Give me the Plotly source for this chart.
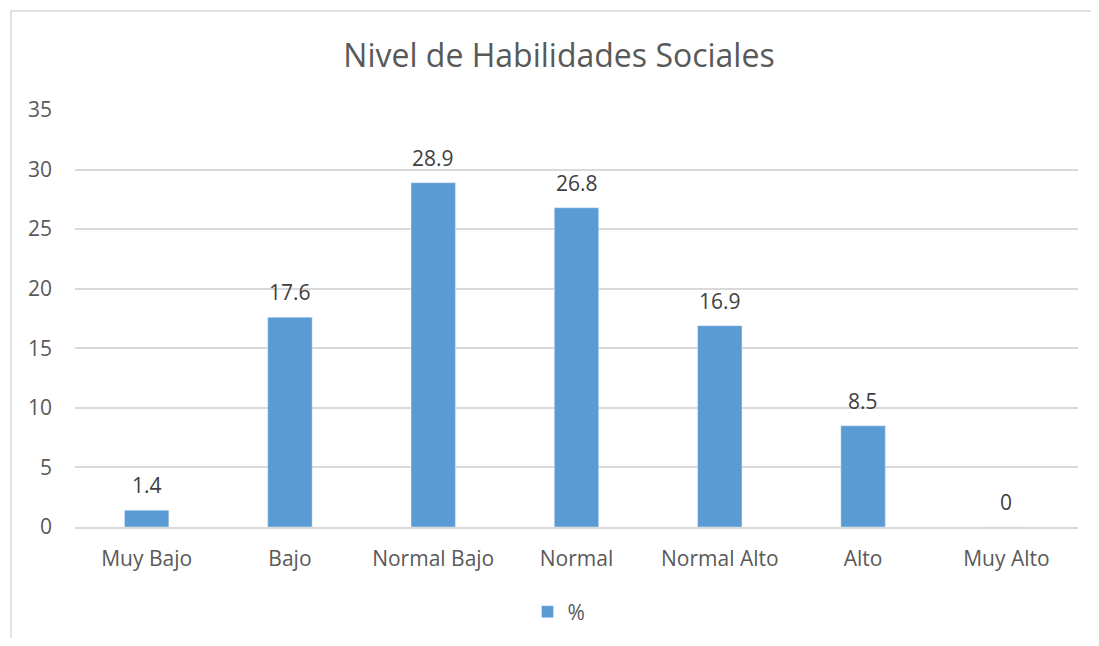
import plotly.graph_objects as go

categories = ["Muy Bajo", "Bajo", "Normal Bajo", "Normal", "Normal Alto", "Alto", "Muy Alto"]
values = [1.4, 17.6, 28.9, 26.8, 16.9, 8.5, 0]
labels = ["1.4", "17.6", "28.9", "26.8", "16.9", "8.5", "0"]
series_name = "%"
title_text = "Nivel de Habilidades Sociales"

FONT = "Open Sans"
OFF = 8  # page body margin
W, H = 1083, 630
L, R, T, B = 67, 13, 102, 111
pw, ph = W - L - R, H - T - B

fig = go.Figure()
fig.add_trace(go.Bar(
    x=categories, y=values, name=series_name,
    marker=dict(color="#5B9BD5"),
    width=0.31,
))

for c, v, t in zip(categories, values, labels):
    fig.add_annotation(x=c, y=v, text=t, showarrow=False, yanchor="bottom", yshift=9,
                       font=dict(family=FONT, size=21, color="#404040"))

fig.update_layout(
    width=W, height=H,
    margin=dict(l=L, r=R, t=T, b=B, autoexpand=False),
    paper_bgcolor="white", plot_bgcolor="white",
    title=dict(text=title_text, x=(559 - OFF) / W, xanchor="center", y=1 - (56 - OFF) / H, yanchor="middle",
               font=dict(family=FONT, size=32, color="#595959")),
    showlegend=True,
    legend=dict(orientation="h", x=(559 - OFF - L) / pw, xanchor="center", y=-(612 - 527) / ph, yanchor="middle",
                font=dict(family=FONT, size=21, color="#595959")),
    xaxis=dict(showgrid=False, showline=True, linecolor="#D9D9D9", linewidth=1.5,
               ticks="", ticklabelstandoff=12, automargin=False,
               tickfont=dict(family=FONT, size=21, color="#595959")),
    yaxis=dict(range=[0, 35], dtick=5, showgrid=True, gridcolor="#D9D9D9", gridwidth=1.5,
               zeroline=False, showline=False, ticks="", ticklabelstandoff=22, automargin=False,
               tickfont=dict(family=FONT, size=21, color="#595959")),
    bargap=0.69,
    shapes=[dict(type="rect", xref="paper", yref="paper",
                 x0=(11 - OFF - L) / pw, x1=(W + 20 - L) / pw,
                 y0=-(H + 20 - T - ph) / ph, y1=(T + ph - (11 - OFF)) / ph,
                 line=dict(color="#D9D9D9", width=1.5), fillcolor="rgba(0,0,0,0)", layer="below")],
)

fig.write_html("out.html")
